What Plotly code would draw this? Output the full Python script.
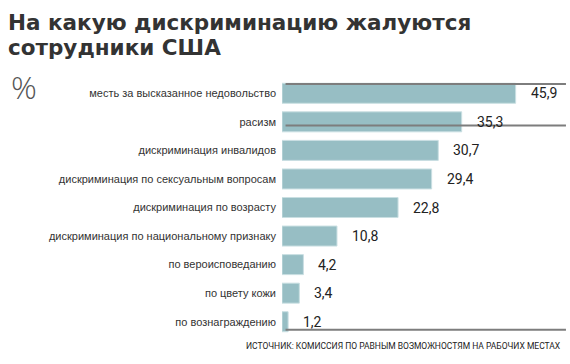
import plotly.graph_objects as go

categories = [
    "месть за высказанное недовольство",
    "расизм",
    "дискриминация инвалидов",
    "дискриминация по сексуальным вопросам",
    "дискриминация по возрасту",
    "дискриминация по национальному признаку",
    "по вероисповеданию",
    "по цвету кожи",
    "по вознаграждению",
]
values = [45.9, 35.3, 30.7, 29.4, 22.8, 10.8, 4.2, 3.4, 1.2]
value_labels = [f"{v:.1f}".replace(".", ",") for v in values]

title_line1 = "На какую дискриминацию жалуются"
title_line2 = "сотрудники США"
unit_label = "%"
source = "ИСТОЧНИК: КОМИССИЯ ПО РАВНЫМ ВОЗМОЖНОСТЯМ НА РАБОЧИХ МЕСТАХ"

W, H = 570, 364
PLOT_L, PLOT_R, PLOT_T, PLOT_B = 282, 570, 79, 336
RULE_X0, RULE_X1 = 7, 562
rule_ys = [7, 66, 355]


def px_x(x):
    return x / W


def px_y(y):
    return (H - y) / H


fig = go.Figure()
fig.add_trace(go.Bar(
    x=values, y=categories, orientation="h",
    marker=dict(color="#97bec4", line=dict(color="#c9dfe2", width=1)),
    width=0.7, hoverinfo="skip",
))

# decorative horizontal rules on a full-figure pixel overlay axis
for yy in rule_ys:
    fig.add_trace(go.Scatter(
        x=[RULE_X0, RULE_X1], y=[yy, yy], mode="lines",
        line=dict(color="#7d7d7d", width=2),
        xaxis="x2", yaxis="y2", hoverinfo="skip", showlegend=False,
    ))

annotations = []
for c, v, t in zip(categories, values, value_labels):
    annotations.append(dict(
        x=v, y=c, xref="x", yref="y", text=t, showarrow=False,
        xanchor="left", yanchor="middle", xshift=13,
        font=dict(family="Roboto", size=14, color="#222222"),
    ))

annotations += [
    dict(x=px_x(6), y=px_y(37), xref="paper", yref="paper", text=f"<b>{title_line1}</b>",
         showarrow=False, xanchor="left", yanchor="bottom",
         font=dict(family="DejaVu Sans", size=21.5, color="#333333")),
    dict(x=px_x(6), y=px_y(62), xref="paper", yref="paper", text=f"<b>{title_line2}</b>",
         showarrow=False, xanchor="left", yanchor="bottom",
         font=dict(family="DejaVu Sans", size=21.5, color="#333333")),
    dict(x=px_x(9), y=px_y(86), xref="paper", yref="paper", text=unit_label,
         showarrow=False, xanchor="left", yanchor="middle",
         font=dict(family="Open Sans", size=32, color="#555555", weight=300)),
    dict(x=px_x(563), y=px_y(346), xref="paper", yref="paper", text=source,
         showarrow=False, xanchor="right", yanchor="middle",
         font=dict(family="Roboto", size=8.5, color="#222222")),
]

fig.update_layout(
    width=W, height=H,
    margin=dict(l=0, r=0, t=0, b=0, pad=0, autoexpand=False),
    paper_bgcolor="white", plot_bgcolor="rgba(0,0,0,0)",
    showlegend=False,
    annotations=annotations,
    xaxis=dict(domain=[px_x(PLOT_L), px_x(PLOT_R)],
               range=[0, (PLOT_R - PLOT_L) / 5.09], visible=False, fixedrange=True),
    yaxis=dict(domain=[px_y(PLOT_B), px_y(PLOT_T)],
               autorange="reversed", showgrid=False, zeroline=False, showline=False,
               ticks="", ticklabelstandoff=5, automargin=False, fixedrange=True,
               tickfont=dict(family="Liberation Sans", size=11, color="#333333")),
    xaxis2=dict(domain=[0, 1], range=[0, W], visible=False, fixedrange=True,
                anchor="y2", overlaying="x"),
    yaxis2=dict(domain=[0, 1], range=[H, 0], visible=False, fixedrange=True,
                anchor="x2", overlaying="y"),
)

fig.write_html("out.html", config={"displayModeBar": False},
               post_script="document.body.style.margin='0';")
